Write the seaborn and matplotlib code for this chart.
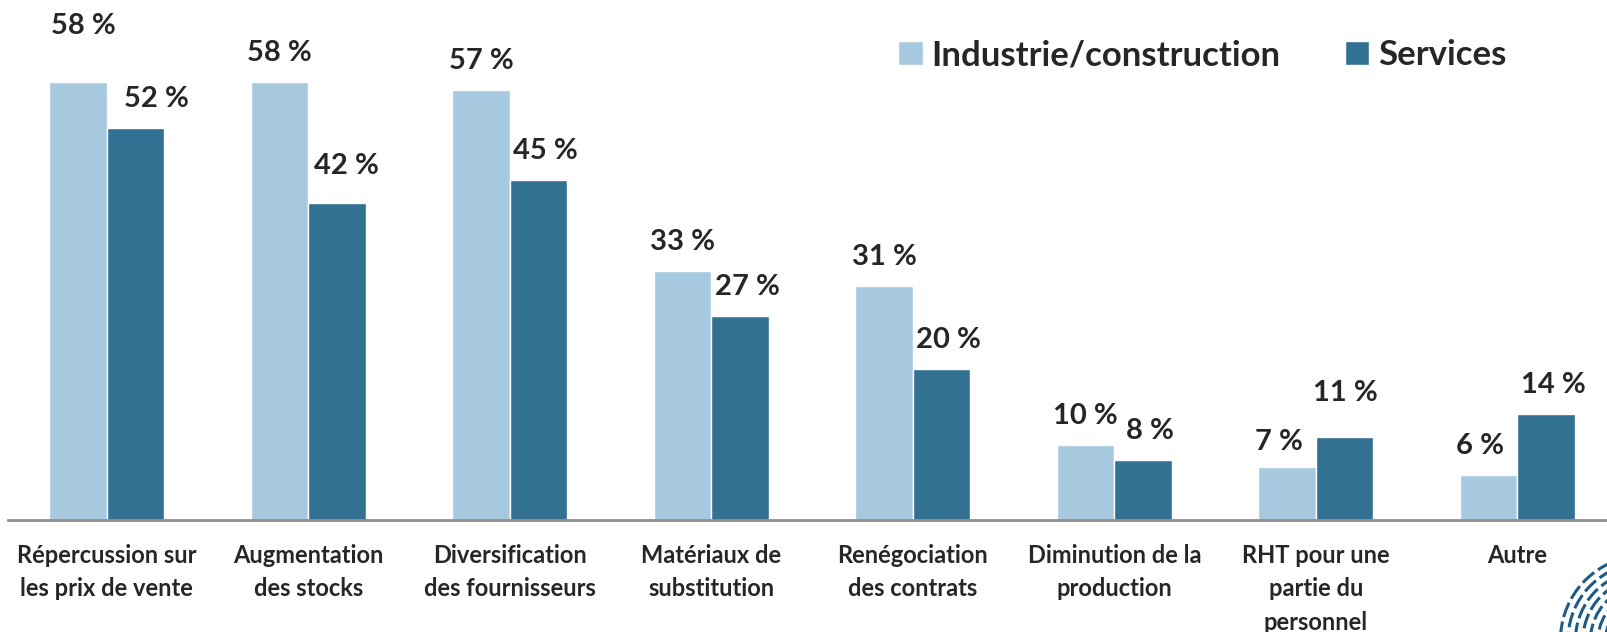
import pandas as pd
import matplotlib.pyplot as plt
import seaborn as sns
from matplotlib.patches import Arc

categories = ['Répercussion sur\nles prix de vente', 'Augmentation\ndes stocks',
              'Diversification\ndes fournisseurs', 'Matériaux de\nsubstitution',
              'Renégociation\ndes contrats', 'Diminution de la\nproduction',
              'RHT pour une\npartie du\npersonnel', 'Autre']
series = ['Industrie/construction', 'Services']
industrie = [58, 58, 57, 33, 31, 10, 7, 6]
services = [52, 42, 45, 27, 20, 8, 11, 14]

colors = ['#A6C9E0', '#337193']

df = pd.DataFrame({'Catégorie': categories * 2,
                   'Secteur': [series[0]] * 8 + [series[1]] * 8,
                   'Valeur': industrie + services})

sns.set_style('white')
plt.rcParams['font.family'] = ['Lato', 'DejaVu Sans']
plt.rcParams['font.weight'] = 'bold'

fig = plt.figure(figsize=(16.08, 6.32), dpi=100)
ax = fig.add_axes([0.005, 0.177, 0.995, 0.823])

sns.barplot(data=df, x='Catégorie', y='Valeur', hue='Secteur', palette=colors,
            width=0.57, saturation=1, ax=ax, legend=True)

ax.set_xlim(-0.49, 7.45)
ax.set_ylim(0, 68.9)
ax.set_xlabel('')
ax.set_ylabel('')
ax.set_yticks([])
for s in ['top', 'right', 'left']:
    ax.spines[s].set_visible(False)
ax.spines['bottom'].set_color('#8E8E8E')
ax.spines['bottom'].set_linewidth(2)
ax.tick_params(axis='x', length=0, pad=17, labelsize=17)
for t in ax.get_xticklabels():
    t.set_fontweight('bold')
    t.set_linespacing(1.55)

# value labels (pixel nudges for the few that sit apart in the original)
nudges = {(0, 0): (5, 27), (0, 1): (14, 0), (1, 1): (2, 8),
          (6, 0): (-8, -4), (6, 1): (-6, 15), (7, 0): (-9, 0)}
for j, cont in enumerate(ax.containers):
    for i, bar in enumerate(cont):
        dx, dy = nudges.get((i, j), (0, 0))
        dx += 7 if j == 1 else 0
        ax.annotate(f'{int(bar.get_height())} %',
                    (bar.get_x() + bar.get_width() / 2, bar.get_height()),
                    xytext=(dx, 29 + dy), textcoords='offset pixels',
                    ha='center', va='center', fontsize=21, fontweight='bold')

leg = ax.legend(loc='upper left', bbox_to_anchor=(0.537, 0.985), ncol=2,
                frameon=False, fontsize=25, handlelength=0.7, handleheight=0.7,
                handletextpad=0.25, columnspacing=1.85)
for t in leg.get_texts():
    t.set_fontweight('bold')

# corner logo fragment
for k in range(8):
    r = 0.32 + k * 0.075
    arc = Arc((16.45, -0.08), 2 * r, 2 * r, theta1=100, theta2=175,
              transform=fig.dpi_scale_trans, color='#1F5A87', lw=2.2,
              linestyle=(0, (5, 1.5)), clip_on=False)
    fig.add_artist(arc)

fig.savefig('out.png', dpi=100)
